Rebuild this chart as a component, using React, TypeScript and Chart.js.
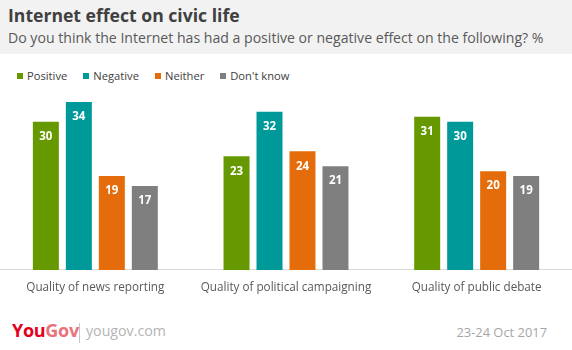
import React, { useEffect, useRef } from "react";
import { Chart, registerables } from "chart.js";

Chart.register(...registerables);

const categories = [
  "Quality of news reporting",
  "Quality of political campaigning",
  "Quality of public debate",
];
const seriesNames = ["Positive", "Negative", "Neither", "Don't know"];
const positive = [30, 23, 31];
const negative = [34, 32, 30];
const neither = [19, 24, 20];
const dontKnow = [17, 21, 19];
const seriesColors = ["#669900", "#009999", "#e46c0a", "#7f7f7f"];

const FONT = "'Open Sans', sans-serif";

const valueLabels = {
  id: "valueLabels",
  afterDatasetsDraw(chart: any) {
    const ctx = chart.ctx;
    ctx.save();
    ctx.font = `bold 11.5px ${FONT}`;
    ctx.fillStyle = "#ffffff";
    ctx.textAlign = "center";
    ctx.textBaseline = "middle";
    chart.data.datasets.forEach((ds: any, di: number) => {
      const meta = chart.getDatasetMeta(di);
      meta.data.forEach((el: any, i: number) => {
        ctx.fillText(String(ds.data[i]), el.x, el.y + 15);
      });
    });
    ctx.restore();
  },
};

export default function App() {
  const ref = useRef<HTMLCanvasElement>(null);
  useEffect(() => {
    const values = [positive, negative, neither, dontKnow];
    const chart = new Chart(ref.current!, {
      type: "bar",
      data: {
        labels: categories,
        datasets: seriesNames.map((n, i) => ({
          label: n,
          data: values[i],
          backgroundColor: seriesColors[i],
          borderWidth: 0,
          categoryPercentage: 0.692,
          barPercentage: 0.788,
        })),
      },
      options: {
        animation: false,
        responsive: false,
        maintainAspectRatio: false,
        layout: { padding: { top: 7, bottom: 4, left: 0, right: 0 } },
        plugins: {
          legend: { display: false },
          tooltip: { enabled: false },
        },
        scales: {
          x: {
            grid: { display: false, drawTicks: false },
            border: { display: true, color: "#d9d9d9", width: 1 },
            ticks: {
              color: "#595959",
              font: { family: FONT, size: 11.7 },
              padding: 11,
              maxRotation: 0,
              autoSkip: false,
            },
          },
          y: {
            display: false,
            min: 0,
            max: 35,
          },
        },
      },
      plugins: [valueLabels],
    });
    return () => chart.destroy();
  }, []);

  return (
    <div
      style={{
        position: "absolute",
        left: 0,
        top: 0,
        width: 572,
        height: 350,
        overflow: "hidden",
        background: "#ffffff",
        fontFamily: FONT,
      }}
    >
      <div style={{ position: "absolute", left: 0, top: 0, width: 572, height: 54, background: "#f2f2f2" }} />
      <div
        style={{
          position: "absolute",
          left: 8,
          top: 7,
          fontSize: 17.6,
          lineHeight: 1,
          fontWeight: 700,
          color: "#404040",
          whiteSpace: "nowrap",
        }}
      >
        Internet effect on civic life
      </div>
      <div
        style={{
          position: "absolute",
          left: 8,
          top: 31,
          fontSize: 14.1,
          lineHeight: 1,
          color: "#595959",
          whiteSpace: "nowrap",
        }}
      >
        Do you think the Internet has had a positive or negative effect on the following? %
      </div>
      <div
        style={{
          position: "absolute",
          left: 17,
          top: 70,
          display: "flex",
          alignItems: "center",
          gap: 16,
          fontSize: 11.2,
          lineHeight: "12px",
          color: "#404040",
          whiteSpace: "nowrap",
        }}
      >
        {seriesNames.map((n, i) => (
          <div key={n} style={{ display: "flex", alignItems: "center" }}>
            <span
              style={{
                display: "inline-block",
                width: 6,
                height: 6,
                background: seriesColors[i],
                marginRight: 4,
              }}
            />
            <span>{n}</span>
          </div>
        ))}
      </div>
      <canvas
        ref={ref}
        width={572}
        height={220}
        style={{ position: "absolute", left: 0, top: 90, width: 572, height: 220 }}
      />
      <div
        style={{
          position: "absolute",
          left: 12,
          top: 321,
          fontSize: 18,
          lineHeight: 1,
          fontWeight: 700,
          letterSpacing: -0.3,
          whiteSpace: "nowrap",
        }}
      >
        <span style={{ color: "#e3001b" }}>You</span>
        <span style={{ color: "#e8737c" }}>Gov</span>
      </div>
      <div style={{ position: "absolute", left: 79, top: 323, width: 1, height: 20, background: "#c8c8c8" }} />
      <div
        style={{
          position: "absolute",
          left: 86,
          top: 324,
          fontSize: 14.2,
          lineHeight: 1,
          color: "#b4b4b4",
          whiteSpace: "nowrap",
        }}
      >
        yougov.com
      </div>
      <div
        style={{
          position: "absolute",
          right: 25,
          top: 325.5,
          fontSize: 12.9,
          lineHeight: 1,
          color: "#a6a6a6",
          whiteSpace: "nowrap",
        }}
      >
        23-24 Oct 2017
      </div>
    </div>
  );
}
